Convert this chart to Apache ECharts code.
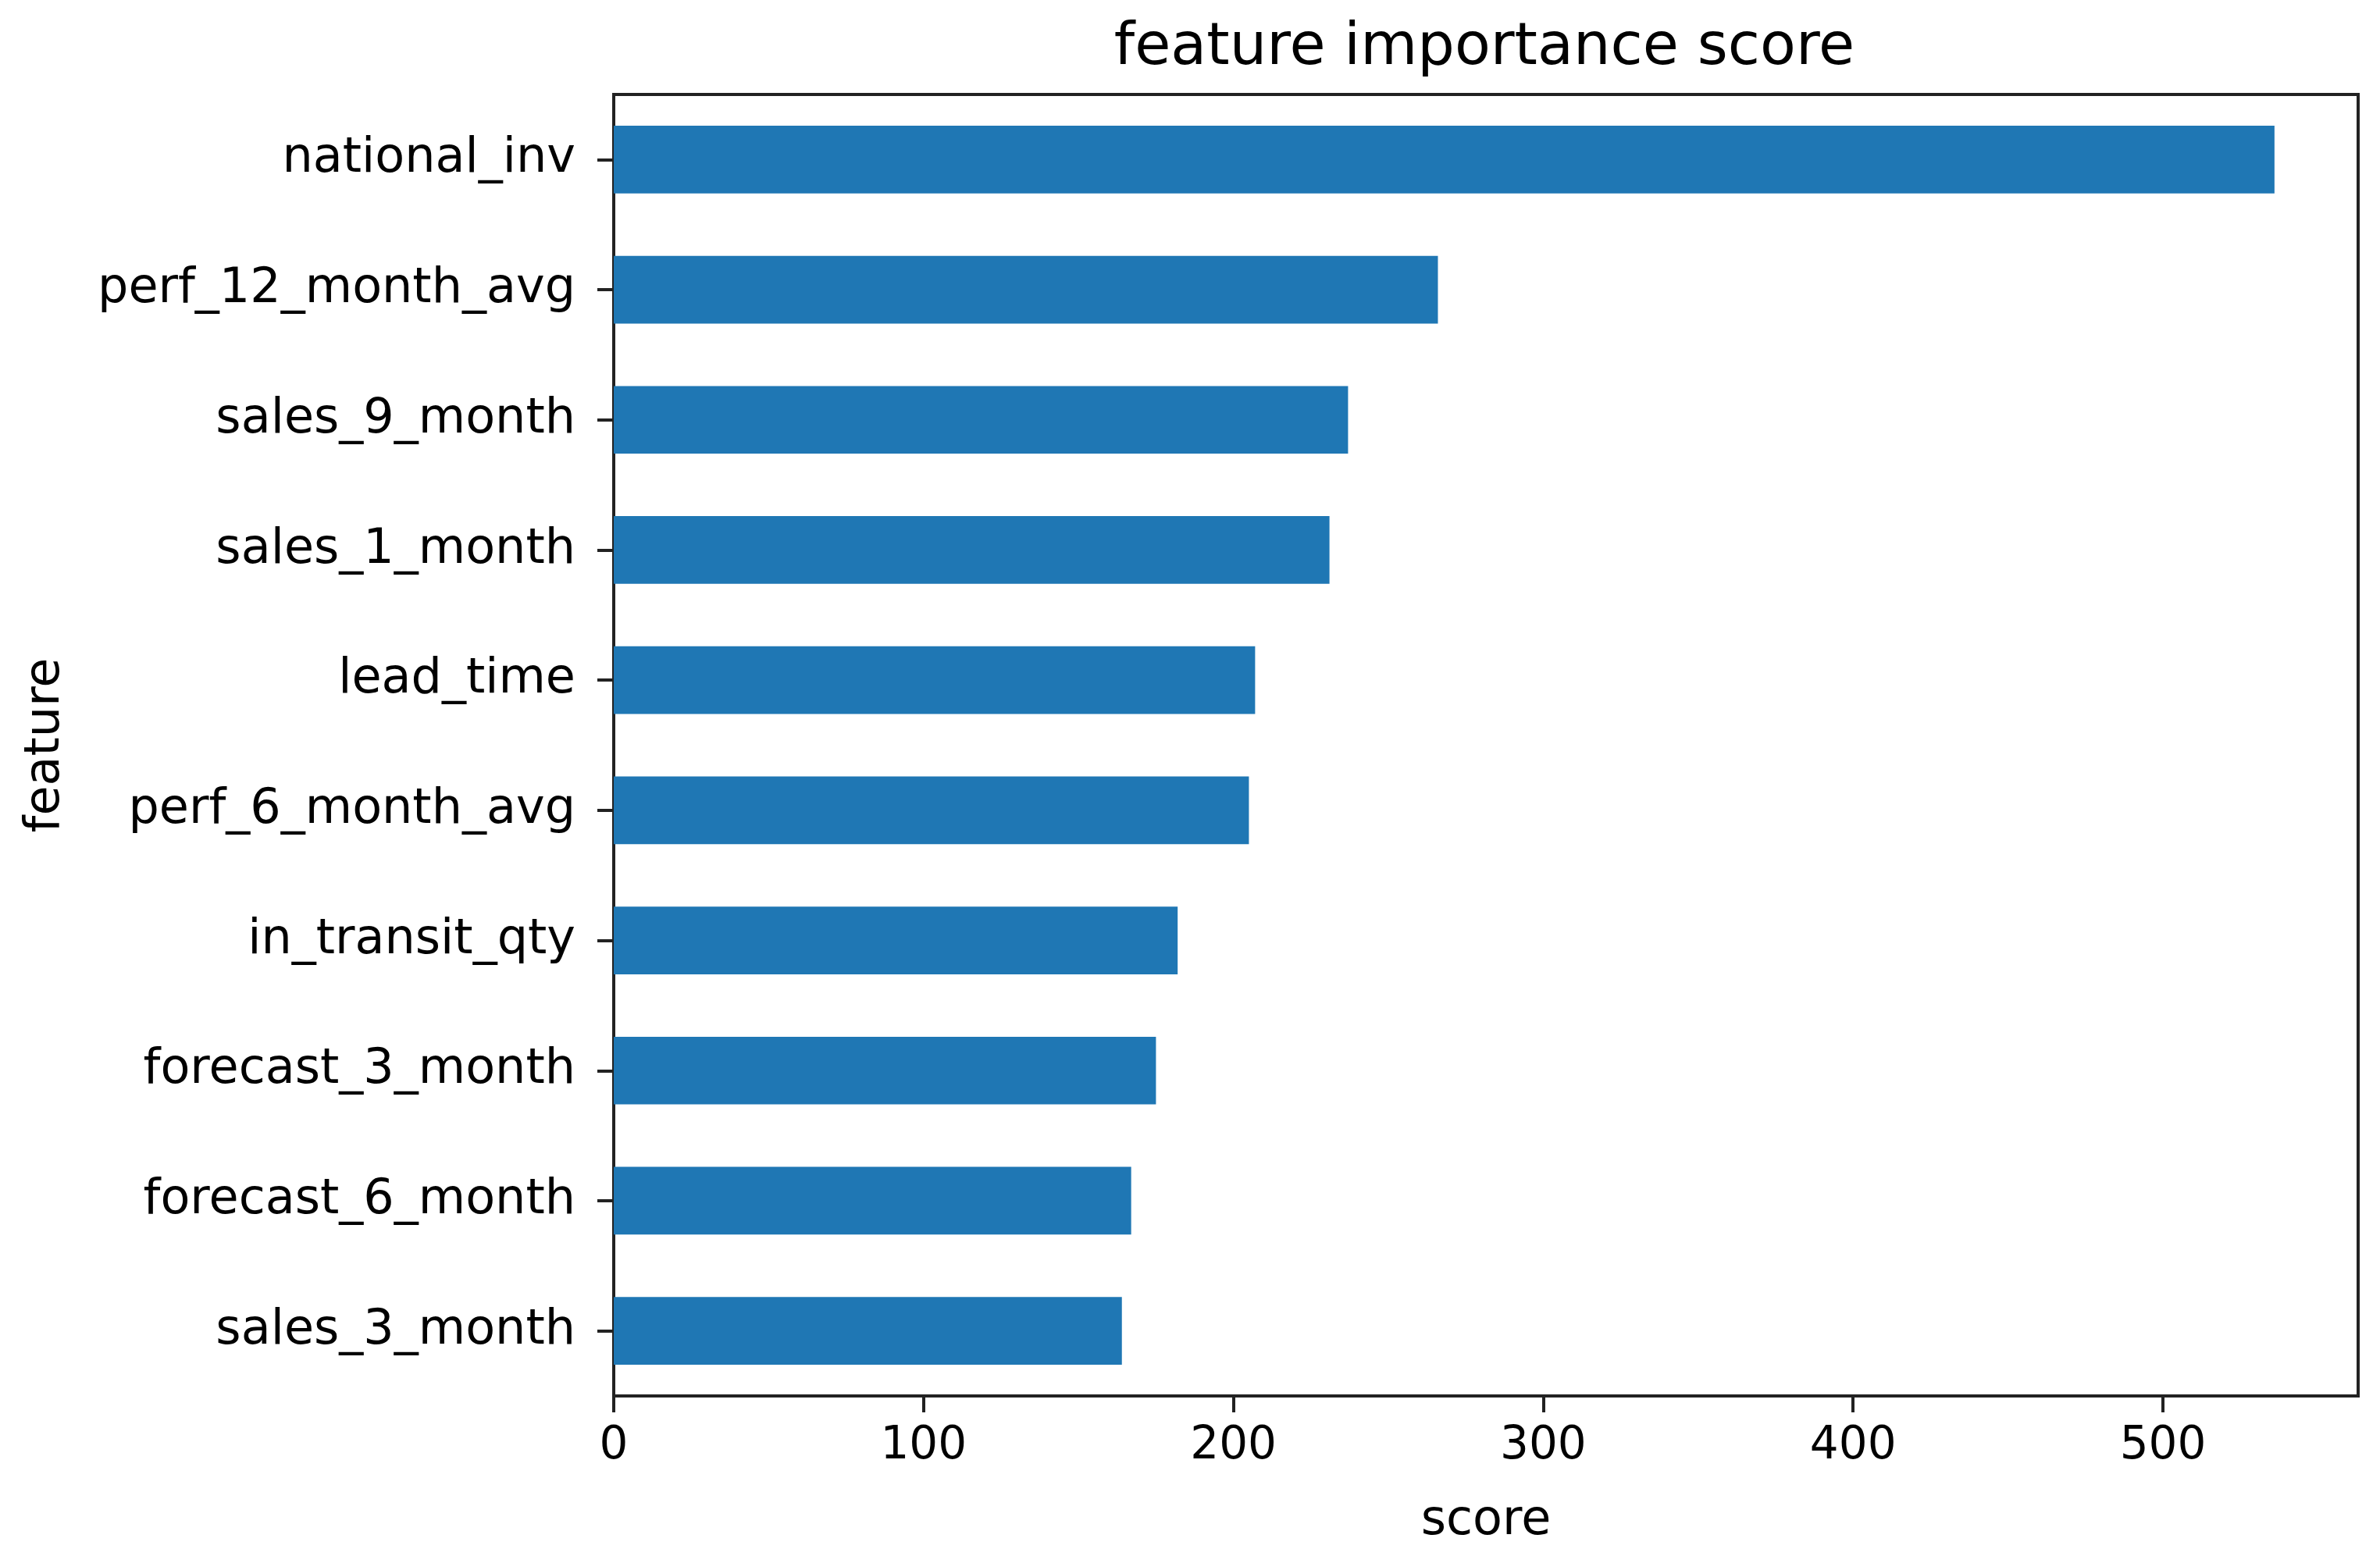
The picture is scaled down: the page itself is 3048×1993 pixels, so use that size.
<!DOCTYPE html>
<html>
<head>
<meta charset="utf-8">
<script src="https://cdn.jsdelivr.net/npm/echarts@6/dist/echarts.min.js"></script>
<style>
  html, body { margin: 0; padding: 0; background: #fff; }
  #chart { width: 3048px; height: 1993px; }
</style>
</head>
<body>
<div id="chart"></div>
<script>
// feature names, top to bottom
const features = [
  'national_inv', 'perf_12_month_avg', 'sales_9_month', 'sales_1_month', 'lead_time',
  'perf_6_month_avg', 'in_transit_qty', 'forecast_3_month', 'forecast_6_month', 'sales_3_month'
];
const scores = [536, 266, 237, 231, 207, 205, 182, 175, 167, 164];
const scoreTicks = [0, 100, 200, 300, 400, 500];

const font = 'DejaVu Sans';
const chart = echarts.init(document.getElementById('chart'));

chart.setOption({
  backgroundColor: '#fff',
  animation: false,
  title: {
    text: 'feature importance score',
    left: 1896,
    top: 20,
    textAlign: 'center',
    textStyle: { fontFamily: font, fontSize: 75, fontWeight: 'normal', color: '#000' }
  },
  grid: {
    left: 786, right: 28, top: 121, bottom: 205,
    show: true, borderColor: '#222', borderWidth: 4, backgroundColor: 'transparent'
  },
  xAxis: {
    type: 'value',
    min: 0,
    max: 563,
    name: 'score',
    nameLocation: 'middle',
    nameGap: 130,
    nameMoveOverlap: false,
    nameTextStyle: { fontFamily: font, fontSize: 62, color: '#000' },
    axisLine: { show: true, lineStyle: { color: '#222', width: 4 } },
    axisTick: { show: true, length: 21, customValues: scoreTicks, lineStyle: { color: '#222', width: 4 } },
    axisLabel: {
      margin: 36, fontFamily: font, fontSize: 58, color: '#000',
      customValues: scoreTicks
    },
    splitLine: { show: false }
  },
  yAxis: {
    type: 'category',
    data: features,
    inverse: true,
    name: 'feature',
    nameLocation: 'middle',
    nameGap: 696,
    nameMoveOverlap: false,
    nameTextStyle: { fontFamily: font, fontSize: 62, color: '#000' },
    axisLine: { show: true, lineStyle: { color: '#222', width: 4 } },
    axisTick: { show: true, alignWithLabel: true, length: 21, lineStyle: { color: '#222', width: 4 } },
    axisLabel: { margin: 49, fontFamily: font, fontSize: 62, color: '#000' }
  },
  series: [{
    type: 'bar',
    data: scores,
    barWidth: '52%',
    itemStyle: { color: '#1f77b4' }
  }]
});
</script>
</body>
</html>
